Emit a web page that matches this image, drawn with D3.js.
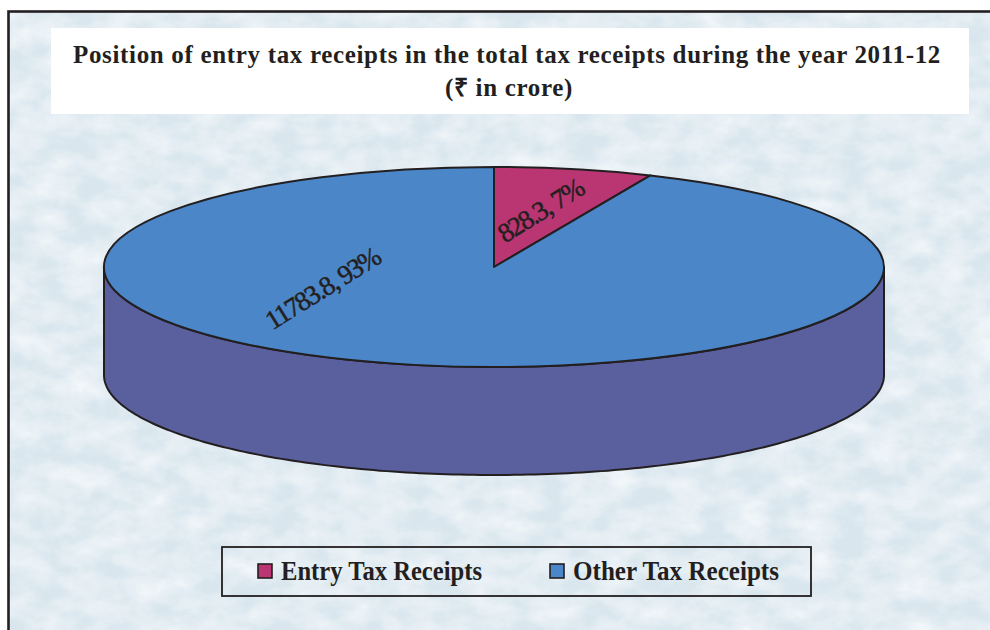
<!DOCTYPE html>
<html><head><meta charset="utf-8">
<script src="https://cdnjs.cloudflare.com/ajax/libs/d3/7.8.5/d3.min.js"></script>
<style>html,body{margin:0;background:#fff;overflow:hidden}svg{display:block}text{font-family:"Liberation Serif",serif;fill:#231f20}</style>
</head><body><svg id="c" width="990" height="630"></svg>
<script>
const categories = ["Entry Tax Receipts", "Other Tax Receipts"];
const values = [828.3, 11783.8];
const percentLabels = ["7%", "93%"];
const colors = ["#b93672", "#4a86c8"];
const sideColor = "#5a5f9e";
const ink = "#231f20";
const titleLines = ["Position of entry tax receipts in the total tax receipts during the year 2011-12", "(₹ in crore)"];

const svg = d3.select("#c");
const defs = svg.append("defs");
const f = defs.append("filter").attr("id","tex").attr("x",0).attr("y",0).attr("width","100%").attr("height","100%");
f.append("feTurbulence").attr("type","fractalNoise").attr("baseFrequency","0.03 0.045").attr("numOctaves",5).attr("seed",11);
f.append("feColorMatrix").attr("type","matrix").attr("values","0 0 0 0 0.90  0 0 0 0 0.94  0 0 0 0 0.96  1.5 0 0 0 -0.42");
f.append("feComposite").attr("in2","SourceGraphic").attr("operator","over");

svg.append("rect").attr("x",8.5).attr("y",11.5).attr("width",1000).attr("height",640).attr("fill","#d9e6ee").attr("filter","url(#tex)");
svg.append("rect").attr("x",8.5).attr("y",11.5).attr("width",1000).attr("height",640).attr("fill","none").attr("stroke",ink).attr("stroke-width",2.6);

svg.append("rect").attr("x",51).attr("y",28).attr("width",918).attr("height",86).attr("fill","#fff");
svg.selectAll("text.title").data(titleLines).join("text").attr("class","title")
  .attr("x",(d,i)=>i?509:507).attr("y",(d,i)=>63+i*33).attr("text-anchor","middle")
  .attr("font-size",25).attr("font-weight","bold").attr("letter-spacing",0.67).text(d=>d);

// 3D pie
const cx=494, cy=267, rx=390, ry=100, depth=108;
const pie = d3.pie().sort(null).value(d=>d);
const arcs = pie(values);
const sx = d3.scaleLinear().domain([-1,1]).range([cx-rx,cx+rx]);
const sy = d3.scaleLinear().domain([-1,1]).range([cy-ry,cy+ry]);

// visible wall: lower half of the ellipse, pushed down by the depth
const angles = d3.range(0,181).map(i=>Math.PI/2+i*Math.PI/180);
const wall = angles.map(a=>[sx(Math.sin(a)),sy(-Math.cos(a))+depth]).concat(angles.slice().reverse().map(a=>[sx(Math.sin(a)),sy(-Math.cos(a))]));
svg.append("path").attr("d",d3.line()(wall)+"Z").attr("fill",sideColor).attr("stroke",ink).attr("stroke-width",2).attr("stroke-linejoin","round");

const arc = d3.arc().innerRadius(0).outerRadius(1);
const pieTop = svg.append("g").attr("transform",`translate(${cx},${cy}) scale(${rx},${ry})`);
pieTop.selectAll("path").data(arcs).join("path").attr("d",arc).attr("fill",(d,i)=>colors[i])
  .attr("stroke",ink).attr("stroke-width",2).attr("vector-effect","non-scaling-stroke").attr("stroke-linejoin","round");

// data labels
const labelXY=[[542,213],[324,291]];
svg.selectAll("text.lab").data(arcs).join("text").attr("class","lab")
  .attr("transform",(d,i)=>`translate(${labelXY[i][0]},${labelXY[i][1]}) rotate(-32)`)
  .attr("text-anchor","middle").attr("dominant-baseline","middle")
  .attr("font-size",27).attr("letter-spacing",-1.7)
  .attr("stroke",ink).attr("stroke-width",0.5)
  .text((d,i)=>`${values[i]}, ${percentLabels[i]}`);

// legend
svg.append("rect").attr("x",222).attr("y",547).attr("width",589).attr("height",49).attr("fill","none").attr("stroke",ink).attr("stroke-width",1.8);
const lx=[258,550], tx=[281,573];
const leg=svg.selectAll("g.leg").data(categories).join("g").attr("class","leg");
leg.append("rect").attr("x",(d,i)=>lx[i]).attr("y",564).attr("width",14).attr("height",14).attr("fill",(d,i)=>colors[i]).attr("stroke",ink).attr("stroke-width",1.6);
leg.append("text").attr("x",(d,i)=>tx[i]).attr("y",580).attr("font-size",27).attr("font-weight","bold").attr("textLength",(d,i)=>[201,206][i]).attr("lengthAdjust","spacingAndGlyphs").text(d=>d);
</script></body></html>
